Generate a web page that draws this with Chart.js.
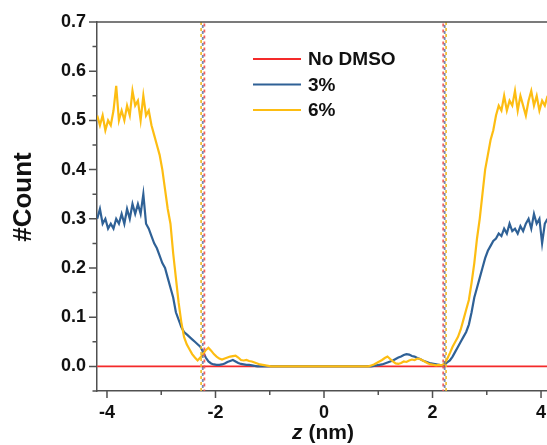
<!DOCTYPE html>
<html><head><meta charset="utf-8">
<script src="https://cdn.jsdelivr.net/npm/chart.js@4.4.1/dist/chart.umd.min.js"></script>
<style>html,body{margin:0;padding:0;background:#fff}#wrap{width:547px;height:445px;position:relative}</style>
</head><body><div id="wrap"><canvas id="c" width="547" height="445"></canvas></div>
<script>
// ---- data ----
const zStart = -4.18, zStep = 0.05;           // sampling grid of the two profiles
const seriesNames = ['No DMSO', '3%', '6%'];
const noDmsoZ = [-4.18, 4.12];
const noDmsoCount = [0, 0];
const dmso3Count = [
  0.30,0.32,0.29,0.30,0.28,0.29,0.28,0.30,0.29,0.31,
  0.29,0.32,0.30,0.33,0.31,0.33,0.31,0.35,0.29,0.28,
  0.265,0.25,0.24,0.225,0.21,0.20,0.18,0.16,0.14,0.11,
  0.095,0.08,0.07,0.065,0.06,0.055,0.05,0.045,0.04,0.03,
  0.018,0.01,0.006,0.004,0.003,0.003,0.004,0.006,0.009,0.011,
  0.013,0.01,0.007,0.005,0.004,0.003,0.003,0.002,0.001,0,
  0,0,0,0,0,0,0,0,0,0,
  0,0,0,0,0,0,0,0,0,0,
  0,0,0,0,0,0,0,0,0,0,
  0,0,0,0,0,0,0,0,0,0,
  0,0,0.001,0.002,0.003,0.004,0.006,0.008,0.01,0.012,
  0.015,0.018,0.02,0.023,0.025,0.024,0.021,0.02,0.017,0.015,
  0.012,0.01,0.008,0.006,0.005,0.004,0.003,0.002,0.004,0.008,
  0.012,0.02,0.03,0.04,0.05,0.06,0.07,0.085,0.11,0.14,
  0.16,0.18,0.2,0.22,0.235,0.245,0.255,0.26,0.27,0.265,
  0.28,0.27,0.29,0.275,0.28,0.27,0.285,0.275,0.29,0.3,
  0.28,0.31,0.29,0.3,0.25,0.29,0.3
];
const dmso6Count = [
  0.51,0.49,0.51,0.48,0.50,0.49,0.52,0.57,0.50,0.52,
  0.50,0.53,0.51,0.56,0.53,0.54,0.50,0.55,0.51,0.52,
  0.49,0.47,0.45,0.43,0.40,0.36,0.32,0.29,0.23,0.18,
  0.13,0.09,0.06,0.045,0.035,0.025,0.018,0.012,0.018,0.025,
  0.033,0.038,0.032,0.025,0.02,0.016,0.014,0.016,0.018,0.02,
  0.021,0.022,0.018,0.013,0.012,0.013,0.011,0.01,0.008,0.006,
  0.004,0.003,0.002,0.001,0,0,0,0,0,0,
  0,0,0,0,0,0,0,0,0,0,
  0,0,0,0,0,0,0,0,0,0,
  0,0,0,0,0,0,0,0,0,0,
  0,0.002,0.004,0.007,0.01,0.013,0.017,0.02,0.015,0.01,
  0.006,0.005,0.007,0.01,0.009,0.012,0.014,0.013,0.016,0.015,
  0.012,0.009,0.006,0.004,0.003,0.002,0.003,0.002,0.006,0.015,
  0.027,0.04,0.05,0.06,0.075,0.095,0.115,0.135,0.17,0.21,
  0.26,0.3,0.35,0.4,0.43,0.46,0.48,0.51,0.53,0.52,
  0.55,0.52,0.54,0.53,0.56,0.52,0.55,0.53,0.51,0.54,
  0.56,0.53,0.55,0.52,0.54,0.53,0.55
];
const boundaryRedZ = [-2.205, 2.197];
const boundaryBlueZ = [-2.235, 2.224];
const boundaryYellowZ = [-2.265, 2.25];
const xTicks = [-4, -2, 0, 2, 4];
const xMinorTicks = [-3, -1, 1, 3];
const yTicks = [0, 0.1, 0.2, 0.3, 0.4, 0.5, 0.6, 0.7];
const yMinorTicks = [-0.05, 0.05, 0.15, 0.25, 0.35, 0.45, 0.55, 0.65];
const xRange = [-4.184, 4.11];
const yRange = [-0.05, 0.7];

// ---- styles ----
const RED = '#f42a2a', BLUE = '#2f6196', YELLOW = '#fdbd12';
const AXIS = '#505050';
const FONT = '"Liberation Sans", Arial, sans-serif';

const toPts = (vals) => vals.map((v, i) => ({x: zStart + i * zStep, y: v}));
const vline = (z) => [{x: z, y: yRange[0]}, {x: z, y: yRange[1]}];

const datasets = [
  {label: seriesNames[2], data: toPts(dmso6Count), borderColor: YELLOW, borderWidth: 2.2, order: 2},
  {label: seriesNames[1], data: toPts(dmso3Count), borderColor: BLUE, borderWidth: 2.2, order: 3},
  {label: seriesNames[0], data: noDmsoZ.map((z, i) => ({x: z, y: noDmsoCount[i]})), borderColor: RED, borderWidth: 1.6, order: 4}
];
[[boundaryYellowZ, 'rgba(235,185,40,0.9)', 0], [boundaryBlueZ, 'rgba(90,110,150,0.8)', 3], [boundaryRedZ, 'rgba(240,80,80,0.9)', 1.5]].forEach(([arr, col, off]) => {
  arr.forEach(z => datasets.push({label: '_b', data: vline(z), borderColor: col, borderWidth: 1.8, borderDash: [3, 3], borderDashOffset: off, order: 1}));
});

const decor = {
  id: 'decor',
  afterDraw(chart) {
    const {ctx, chartArea: a, scales: {x, y}} = chart;
    ctx.save();
    ctx.strokeStyle = AXIS; ctx.lineWidth = 1.5;
    ctx.beginPath();
    ctx.moveTo(a.left, a.top); ctx.lineTo(a.right, a.top);
    yTicks.forEach(v => { const p = y.getPixelForValue(v); ctx.moveTo(a.left, p); ctx.lineTo(a.left - 8, p); });
    yMinorTicks.forEach(v => { const p = y.getPixelForValue(v); ctx.moveTo(a.left, p); ctx.lineTo(a.left - 4.5, p); });
    xTicks.forEach(v => { const p = x.getPixelForValue(v); ctx.moveTo(p, a.bottom); ctx.lineTo(p, a.bottom + 7); });
    xMinorTicks.forEach(v => { const p = x.getPixelForValue(v); ctx.moveTo(p, a.bottom); ctx.lineTo(p, a.bottom + 4); });
    ctx.stroke();

    // legend
    const legendColors = [RED, BLUE, YELLOW];
    const ly = [59, 84.5, 110];
    ctx.font = 'bold 19px ' + FONT;
    ctx.textAlign = 'left'; ctx.textBaseline = 'middle';
    seriesNames.forEach((n, i) => {
      ctx.strokeStyle = legendColors[i]; ctx.lineWidth = 2;
      ctx.beginPath(); ctx.moveTo(253, ly[i]); ctx.lineTo(301, ly[i]); ctx.stroke();
      ctx.fillStyle = '#111';
      ctx.fillText(n, 308, ly[i] + 1);
    });

    // axis titles
    ctx.fillStyle = '#111';
    ctx.save();
    ctx.translate(24, 197); ctx.rotate(-Math.PI / 2);
    ctx.font = 'bold 26px ' + FONT; ctx.textAlign = 'center'; ctx.textBaseline = 'middle';
    ctx.fillText('#Count', 0, 0);
    ctx.restore();

    const f1 = 'italic bold 21px ' + FONT, f2 = 'bold 21px ' + FONT;
    ctx.font = f1; const w1 = ctx.measureText('z').width;
    ctx.font = f2; const w2 = ctx.measureText(' (nm)').width;
    let sx = 323 - (w1 + w2) / 2;
    ctx.textAlign = 'left'; ctx.textBaseline = 'middle';
    ctx.font = f1; ctx.fillText('z', sx, 433);
    ctx.font = f2; ctx.fillText(' (nm)', sx + w1, 433);
    ctx.restore();
  }
};

new Chart(document.getElementById('c'), {
  type: 'line',
  data: {datasets},
  options: {
    responsive: false, devicePixelRatio: 1, animation: false,
    parsing: true,
    elements: {point: {radius: 0}, line: {tension: 0}},
    layout: {padding: {top: 22, right: 0, bottom: 0, left: 0}},
    plugins: {legend: {display: false}, tooltip: {enabled: false}},
    scales: {
      x: {
        type: 'linear', min: xRange[0], max: xRange[1],
        afterBuildTicks: s => { s.ticks = xTicks.map(v => ({value: v})); },
        afterFit: s => { s.height = 54; s.paddingLeft = 0; s.paddingRight = 0; },
        grid: {display: true, drawOnChartArea: false, drawTicks: true, tickLength: 8, color: 'rgba(0,0,0,0)'},
        border: {display: true, color: AXIS, width: 1.5},
        ticks: {autoSkip: false, maxRotation: 0, padding: 3, color: '#111', font: {family: FONT, size: 18, weight: 'bold'}, callback: v => String(v)}
      },
      y: {
        type: 'linear', min: yRange[0], max: yRange[1],
        afterBuildTicks: s => { s.ticks = yTicks.map(v => ({value: v})); },
        afterFit: s => { s.width = 97; s.paddingTop = 0; s.paddingBottom = 0; },
        grid: {display: true, drawOnChartArea: false, drawTicks: true, tickLength: 8, color: 'rgba(0,0,0,0)'},
        border: {display: true, color: AXIS, width: 1.5},
        ticks: {autoSkip: false, padding: 3, color: '#111', font: {family: FONT, size: 18, weight: 'bold'}, callback: v => Number(v).toFixed(1)}
      }
    }
  },
  plugins: [decor]
});
</script></body></html>
